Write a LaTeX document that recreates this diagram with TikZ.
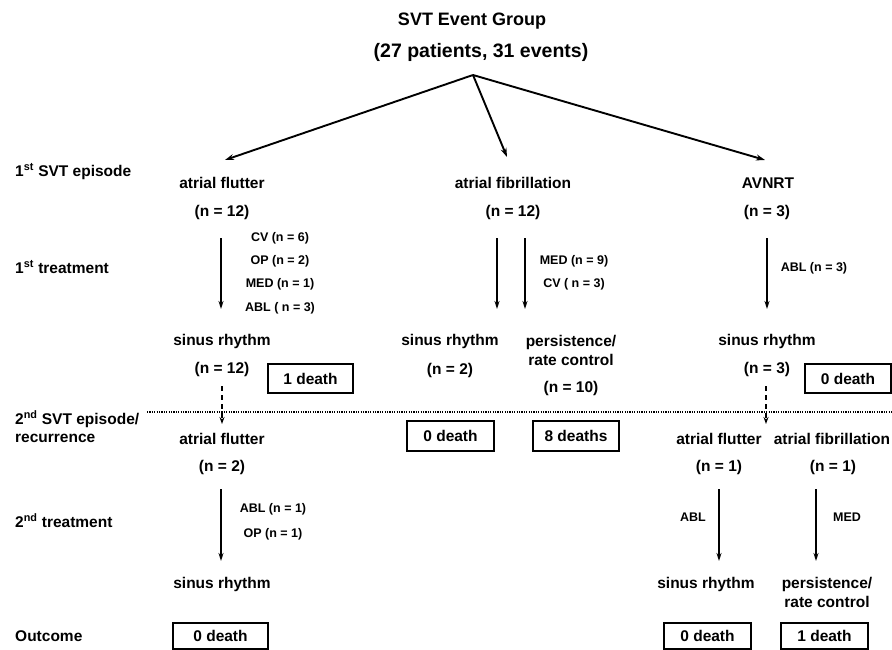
\documentclass[tikz,border=0pt]{standalone}
\usepackage{fontspec}
\setmainfont{Liberation Sans}
\usetikzlibrary{arrows.meta}
\begin{document}
\begin{tikzpicture}[x=1pt,y=-1pt,
  lab/.style={anchor=base,inner sep=0pt,font=\fontsize{15.5}{17}\selectfont\bfseries},
  leftlab/.style={anchor=base west,inner sep=0pt,font=\fontsize{15.5}{17}\selectfont\bfseries},
  small/.style={anchor=base,inner sep=0pt,font=\fontsize{12.5}{14}\selectfont\bfseries},
  title/.style={anchor=base,inner sep=0pt,font=\fontsize{18}{20}\selectfont\bfseries},
  deathbox/.style={draw,line width=1.3pt,inner sep=0pt,minimum height=29pt,font=\fontsize{15.5}{17}\selectfont\bfseries},
  bigarrow/.style={line width=1.9pt,-{Stealth[length=9pt,width=6pt]}},
  varrow/.style={line width=1.4pt,-{Stealth[length=8pt,width=5pt]}},
  dasharrow/.style={line width=1.2pt,dash pattern=on 5pt off 4pt,-{Stealth[length=7pt,width=5pt]}},
]
\useasboundingbox (0,0) rectangle (892,650);

% title
\node[title] (t1) at (472,26) {SVT Event Group};
\node[title,font=\fontsize{19.5}{21}\selectfont\bfseries] (t2) at (481,58) {(27 patients, 31 events)};
\coordinate (root) at (473,75);

% left row labels
\node[leftlab] (r1) at (15,176) {1\textsuperscript{st} SVT episode};
\node[leftlab] (r2) at (15,273) {1\textsuperscript{st} treatment};
\node[leftlab] (r3a) at (15,424) {2\textsuperscript{nd} SVT episode/};
\node[leftlab] (r3b) at (15,442) {recurrence};
\node[leftlab] (r4) at (15,527) {2\textsuperscript{nd} treatment};
\node[leftlab] (r5) at (15,641) {Outcome};

% first episode
\coordinate (afl1top) at (225,160);
\coordinate (afib1top) at (507,157);
\coordinate (avn1top) at (765,160);
\draw[bigarrow] (root) -- (afl1top);
\draw[bigarrow] (root) -- (afib1top);
\draw[bigarrow] (root) -- (avn1top);

\node[lab] (afl1) at (222,189) {atrial flutter};
\node[lab] (afl1n) at (222,216) {(n = 12)};
\node[lab] (afib1) at (513,189) {atrial fibrillation};
\node[lab] (afib1n) at (513,216) {(n = 12)};
\node[lab] (avn1) at (768,189) {AVNRT};
\node[lab] (avn1n) at (767,216) {(n = 3)};

% first treatment arrows
\coordinate (a1s) at (221,238); \coordinate (a1e) at (221,309);
\coordinate (a2s) at (497,238); \coordinate (a2e) at (497,309);
\coordinate (a3s) at (525,238); \coordinate (a3e) at (525,309);
\coordinate (a4s) at (767,238); \coordinate (a4e) at (767,309);
\draw[varrow] (a1s) -- (a1e);
\draw[varrow] (a2s) -- (a2e);
\draw[varrow] (a3s) -- (a3e);
\draw[varrow] (a4s) -- (a4e);

\node[small] (tr1a) at (280,241.5) {CV (n = 6)};
\node[small] (tr1b) at (280,264.5) {OP (n = 2)};
\node[small] (tr1c) at (280,287.5) {MED (n = 1)};
\node[small] (tr1d) at (280,311) {ABL ( n = 3)};
\node[small] (tr2a) at (574,264.5) {MED (n = 9)};
\node[small] (tr2b) at (574,287.5) {CV ( n = 3)};
\node[small] (tr3a) at (814,271) {ABL (n = 3)};

% results of first treatment
\node[lab] (sr1) at (222,345) {sinus rhythm};
\node[lab] (sr1n) at (222,373) {(n = 12)};
\node[lab] (sr2) at (450,345) {sinus rhythm};
\node[lab] (sr2n) at (450,374) {(n = 2)};
\node[lab] (pr1a) at (571,346) {persistence/};
\node[lab] (pr1b) at (571,365) {rate control};
\node[lab] (pr1n) at (571,392) {(n = 10)};
\node[lab] (sr3) at (767,345) {sinus rhythm};
\node[lab] (sr3n) at (767,373) {(n = 3)};

\node[deathbox,minimum width=85pt] (d1) at (310.5,378.5) {1 death};
\node[deathbox,minimum width=86pt] (d2) at (848,378.5) {0 death};
\node[deathbox,minimum width=87pt,minimum height=30pt] (d3) at (450.5,436) {0 death};
\node[deathbox,minimum width=86pt,minimum height=30pt] (d4) at (576,436) {8 deaths};

% separator
\coordinate (sepL) at (147,412);
\coordinate (sepR) at (892,412);
\draw[line width=1.3pt,dash pattern=on 1.2pt off 1.2pt] (sepL) -- (sepR);

% recurrence arrows
\coordinate (b1s) at (222,386); \coordinate (b1e) at (222,424);
\coordinate (b2s) at (766,386); \coordinate (b2e) at (766,424);
\draw[dasharrow] (b1s) -- (b1e);
\draw[dasharrow] (b2s) -- (b2e);

% second episode
\node[lab] (afl2) at (222,444) {atrial flutter};
\node[lab] (afl2n) at (222,471) {(n = 2)};
\node[lab] (afl3) at (719,444) {atrial flutter};
\node[lab] (afl3n) at (719,471) {(n = 1)};
\node[lab] (afib3) at (832,444) {atrial fibrillation};
\node[lab] (afib3n) at (833,471) {(n = 1)};

% second treatment arrows
\coordinate (c1s) at (221,489); \coordinate (c1e) at (221,561);
\coordinate (c2s) at (719,489); \coordinate (c2e) at (719,561);
\coordinate (c3s) at (816,489); \coordinate (c3e) at (816,561);
\draw[varrow] (c1s) -- (c1e);
\draw[varrow] (c2s) -- (c2e);
\draw[varrow] (c3s) -- (c3e);

\node[small] (tr4a) at (273,512.5) {ABL (n = 1)};
\node[small] (tr4b) at (273,537.5) {OP (n = 1)};
\node[small] (tr5) at (693,521.5) {ABL};
\node[small] (tr6) at (847,521.5) {MED};

% second results
\node[lab] (sr4) at (222,588) {sinus rhythm};
\node[lab] (sr5) at (706,588) {sinus rhythm};
\node[lab] (pr2a) at (827,588) {persistence/};
\node[lab] (pr2b) at (827,607) {rate control};

% outcome boxes
\node[deathbox,minimum width=95pt,minimum height=26pt] (o1) at (220.5,636) {0 death};
\node[deathbox,minimum width=87pt,minimum height=26pt] (o2) at (707.5,636) {0 death};
\node[deathbox,minimum width=87pt,minimum height=26pt] (o3) at (824.5,636) {1 death};
\end{tikzpicture}
\end{document}
